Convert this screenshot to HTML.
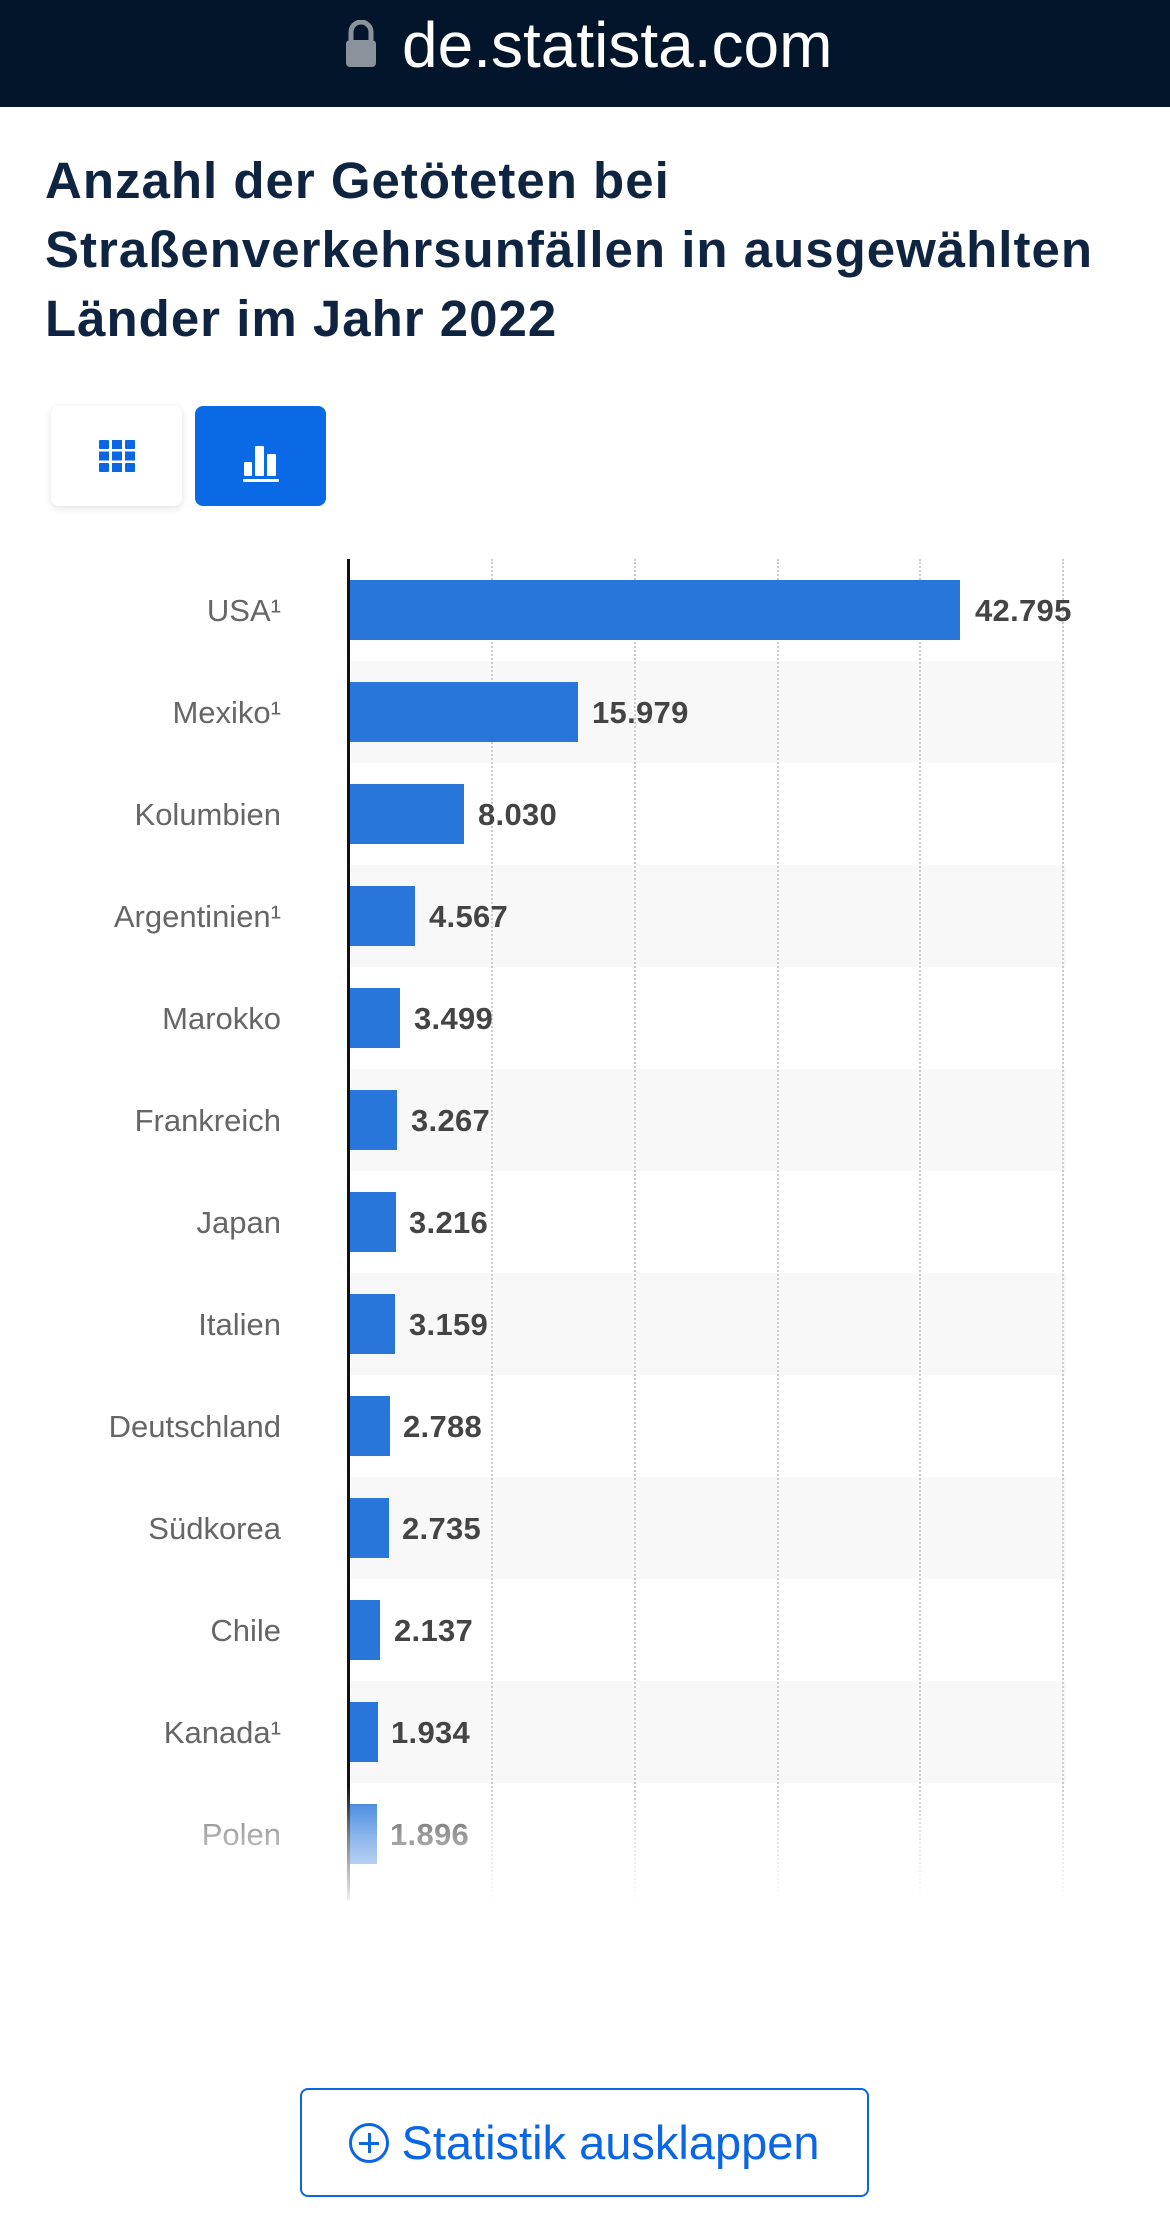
<!DOCTYPE html>
<html><head><meta charset="utf-8"><style>
body{margin:0;width:1170px;height:2215px;background:#fff;position:relative;overflow:hidden;font-family:"Liberation Sans",sans-serif}
.top{position:absolute;left:0;top:0;width:1170px;height:107px;background:#02152b}
.dom{position:absolute;left:402px;top:8px;font-size:64px;color:#fff;letter-spacing:0px}
.lock{position:absolute;left:344px;top:20px;width:34px;height:48px}
.title{position:absolute;left:45px;top:146px;font-size:51px;font-weight:bold;color:#0f2440;line-height:69px;letter-spacing:1px}
.btn{position:absolute;top:406px;width:131px;height:100px;border-radius:8px}
.row{position:absolute;left:350px;width:716px;height:102px}
.lab{position:absolute;right:889px;font-size:31px;color:#666;text-align:right;white-space:nowrap}
.bar{position:absolute;left:350px;height:60px;background:#2876da}
.val{position:absolute;font-size:31px;font-weight:bold;color:#444;letter-spacing:0.3px}
.grid{position:absolute;top:559px;height:1341px;border-left:2px dotted #ccc}
</style></head><body>
<div class="top"><svg class="lock" viewBox="0 0 34 48"><path d="M7 20V12a10 10 0 0 1 20 0v8" fill="none" stroke="#8a929c" stroke-width="5"/><rect x="2" y="20" width="30" height="27" rx="4" fill="#8a929c"/></svg><div class="dom">de.statista.com</div></div>
<div class="title">Anzahl der Getöteten bei<br>Straßenverkehrsunfällen in ausgewählten<br>Länder im Jahr 2022</div>
<div class="btn" style="left:51px;background:#fff;box-shadow:0 2px 8px rgba(0,0,0,0.12)"><svg style="position:absolute;left:48px;top:34px" width="36" height="32" viewBox="0 0 36 32"><g fill="#0a66e4"><rect x="0" y="0" width="10" height="9" rx="1"/><rect x="13" y="0" width="10" height="9"/><rect x="26" y="0" width="10" height="9" rx="1"/><rect x="0" y="11.5" width="10" height="9"/><rect x="13" y="11.5" width="10" height="9"/><rect x="26" y="11.5" width="10" height="9"/><rect x="0" y="23" width="10" height="9" rx="1"/><rect x="13" y="23" width="10" height="9"/><rect x="26" y="23" width="10" height="9" rx="1"/></g></svg></div>
<div class="btn" style="left:195px;background:#0a69e5"><svg style="position:absolute;left:48px;top:36px" width="36" height="40" viewBox="0 0 36 40"><g fill="#fff"><rect x="1" y="20" width="8" height="14" rx="1"/><rect x="12" y="4" width="9" height="30" rx="1"/><rect x="24" y="12" width="9" height="22" rx="1"/><rect x="0" y="37" width="36" height="3" rx="1"/></g></svg></div>

<div class="row" style="top:661px;background:#f8f8f8"></div>
<div class="row" style="top:865px;background:#f8f8f8"></div>
<div class="row" style="top:1069px;background:#f8f8f8"></div>
<div class="row" style="top:1273px;background:#f8f8f8"></div>
<div class="row" style="top:1477px;background:#f8f8f8"></div>
<div class="row" style="top:1681px;background:#f8f8f8"></div>
<div class="grid" style="left:491px"></div><div class="grid" style="left:634px"></div><div class="grid" style="left:777px"></div><div class="grid" style="left:919px"></div><div class="grid" style="left:1062px"></div>
<div style="position:absolute;left:347px;top:559px;width:3px;height:1341px;background:#111"></div>

<div class="lab" style="top:593px">USA¹</div><div class="bar" style="top:580px;width:610px"></div><div class="val" style="left:975px;top:593px">42.795</div>
<div class="lab" style="top:695px">Mexiko¹</div><div class="bar" style="top:682px;width:228px"></div><div class="val" style="left:592px;top:695px">15.979</div>
<div class="lab" style="top:797px">Kolumbien</div><div class="bar" style="top:784px;width:114px"></div><div class="val" style="left:478px;top:797px">8.030</div>
<div class="lab" style="top:899px">Argentinien¹</div><div class="bar" style="top:886px;width:65px"></div><div class="val" style="left:429px;top:899px">4.567</div>
<div class="lab" style="top:1001px">Marokko</div><div class="bar" style="top:988px;width:50px"></div><div class="val" style="left:414px;top:1001px">3.499</div>
<div class="lab" style="top:1103px">Frankreich</div><div class="bar" style="top:1090px;width:47px"></div><div class="val" style="left:411px;top:1103px">3.267</div>
<div class="lab" style="top:1205px">Japan</div><div class="bar" style="top:1192px;width:46px"></div><div class="val" style="left:409px;top:1205px">3.216</div>
<div class="lab" style="top:1307px">Italien</div><div class="bar" style="top:1294px;width:45px"></div><div class="val" style="left:409px;top:1307px">3.159</div>
<div class="lab" style="top:1409px">Deutschland</div><div class="bar" style="top:1396px;width:40px"></div><div class="val" style="left:403px;top:1409px">2.788</div>
<div class="lab" style="top:1511px">Südkorea</div><div class="bar" style="top:1498px;width:39px"></div><div class="val" style="left:402px;top:1511px">2.735</div>
<div class="lab" style="top:1613px">Chile</div><div class="bar" style="top:1600px;width:30px"></div><div class="val" style="left:394px;top:1613px">2.137</div>
<div class="lab" style="top:1715px">Kanada¹</div><div class="bar" style="top:1702px;width:28px"></div><div class="val" style="left:391px;top:1715px">1.934</div>
<div class="lab" style="top:1817px">Polen</div><div class="bar" style="top:1804px;width:27px"></div><div class="val" style="left:390px;top:1817px">1.896</div>
<div style="position:absolute;left:0;top:1785px;width:1170px;height:125px;background:linear-gradient(rgba(255,255,255,0),rgba(255,255,255,0.45) 40%,#fff)"></div>

<div style="position:absolute;left:300px;top:2088px;width:565px;height:105px;border:2px solid #0a66e4;border-radius:8px;color:#0a66e4;font-size:47px;line-height:105px;text-align:center"><span style="display:inline-block;width:34px;height:34px;border:3px solid #0a66e4;border-radius:50%;vertical-align:-4px;position:relative;margin-right:12px"><span style="position:absolute;left:7px;top:15.5px;width:20px;height:3px;background:#0a66e4"></span><span style="position:absolute;left:15.5px;top:7px;width:3px;height:20px;background:#0a66e4"></span></span>Statistik ausklappen</div>
</body></html>
